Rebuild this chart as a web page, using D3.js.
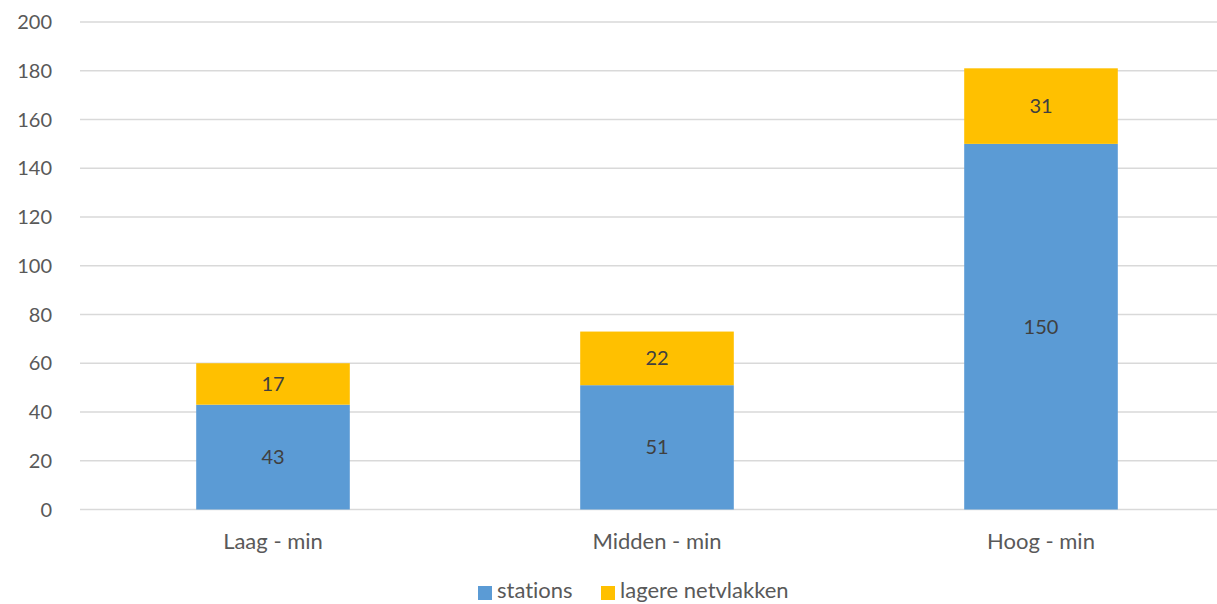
<!DOCTYPE html>
<html>
<head>
<meta charset="utf-8">
<script src="https://cdnjs.cloudflare.com/ajax/libs/d3/7.8.5/d3.min.js"></script>
<style>
  body { margin: 0; background: #fff; }
  svg { display: block; font-family: Lato, "Open Sans", sans-serif; font-variant-ligatures: none; }
</style>
</head>
<body>
<div id="viz"></div>
<script>
var categories = ["Laag - min", "Midden - min", "Hoog - min"];
var stations = [43, 51, 150];
var lagere = [17, 22, 31];
var seriesNames = ["stations", "lagere netvlakken"];
var yTicks = [0, 20, 40, 60, 80, 100, 120, 140, 160, 180, 200];

var width = 1217, height = 604;
var colors = ["#5B9BD5", "#FFC000"];

var svg = d3.select("#viz").append("svg")
  .attr("width", width)
  .attr("height", height);

var x = d3.scaleBand()
  .domain(categories)
  .range([81, 1233])
  .paddingInner(0.6)
  .paddingOuter(0.3);

var y = d3.scaleLinear()
  .domain([0, 200])
  .range([509.5, 22]);

// gridlines
svg.append("g").selectAll("line")
  .data(yTicks)
  .enter().append("line")
  .attr("x1", 80).attr("x2", width)
  .attr("y1", function(d){ return y(d); })
  .attr("y2", function(d){ return y(d); })
  .attr("stroke", "#d9d9d9")
  .attr("stroke-width", 1.5);

// y labels
svg.append("g").selectAll("text")
  .data(yTicks)
  .enter().append("text")
  .attr("x", 52)
  .attr("y", function(d){ return y(d); })
  .attr("dy", "0.35em")
  .attr("text-anchor", "end")
  .attr("fill", "#595959")
  .style("font-size", "20px")
  .text(function(d){ return d; });

var table = categories.map(function(c, i){
  return { cat: c, stations: stations[i], lagere: lagere[i] };
});
var stack = d3.stack().keys(["stations", "lagere"])(table);

var layers = svg.append("g").selectAll("g")
  .data(stack)
  .enter().append("g")
  .attr("fill", function(d, i){ return colors[i]; });

layers.selectAll("rect")
  .data(function(d){ return d; })
  .enter().append("rect")
  .attr("x", function(d){ return x(d.data.cat); })
  .attr("width", x.bandwidth())
  .attr("y", function(d){ return y(d[1]); })
  .attr("height", function(d){ return y(d[0]) - y(d[1]); });

layers.selectAll("text")
  .data(function(d){ return d; })
  .enter().append("text")
  .attr("x", function(d){ return x(d.data.cat) + x.bandwidth() / 2; })
  .attr("y", function(d){ return y((d[0] + d[1]) / 2); })
  .attr("dy", "0.35em")
  .attr("text-anchor", "middle")
  .attr("fill", "#404040")
  .style("font-size", "20px")
  .text(function(d){ return d[1] - d[0]; });

// x labels
svg.append("g").selectAll("text")
  .data(categories)
  .enter().append("text")
  .attr("x", function(d){ return x(d) + x.bandwidth() / 2; })
  .attr("y", 541)
  .attr("dy", "0.35em")
  .attr("text-anchor", "middle")
  .attr("fill", "#595959")
  .style("font-size", "22px")
  .text(function(d){ return d; });

// legend
var legendX = [478, 601];
var leg = svg.append("g").selectAll("g")
  .data(seriesNames)
  .enter().append("g")
  .attr("transform", function(d, i){ return "translate(" + legendX[i] + ",0)"; });

leg.append("rect")
  .attr("x", 0).attr("y", 586)
  .attr("width", 14).attr("height", 14)
  .attr("fill", function(d, i){ return colors[i]; });

leg.append("text")
  .attr("x", 19)
  .attr("y", 598)
  .attr("fill", "#595959")
  .style("font-size", "22px")
  .text(function(d){ return d; });
</script>
</body>
</html>
